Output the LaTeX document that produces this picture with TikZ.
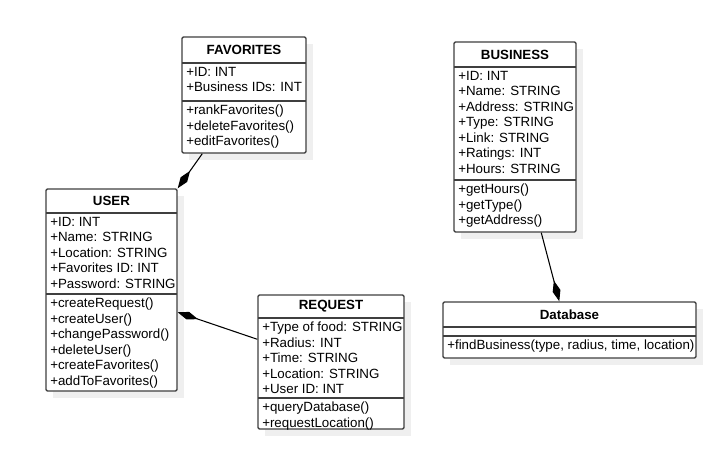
\documentclass[tikz,border=0pt]{standalone}
\usepackage{fontspec}
\setmainfont{Liberation Sans}
\usetikzlibrary{arrows.meta,calc,fit}
\definecolor{boxline}{HTML}{3F3F3F}
\definecolor{shade}{HTML}{EFEFEF}
\tikzset{
  classbox/.style={draw=boxline, line width=1.1pt, fill=white, rounded corners=1pt, inner sep=0pt},
  shadowbox/.style={fill=shade},
  sepline/.style={draw=boxline, line width=1.1pt},
  title/.style={font=\bfseries, inner sep=0pt},
  members/.style={anchor=north west, align=left, inner xsep=3pt, inner ysep=3pt, font=\fontsize{10}{11.6}\selectfont},
  comp/.style={draw=black, line width=0.8pt, -{Diamond[length=16pt, width=6pt, fill=black]}}
}
\begin{document}
\begin{tikzpicture}[x=0.75pt, y=-0.75pt]
            \useasboundingbox (0,0) rectangle (706,449);

            % shadows
            \fill[shadowbox] (189,44) rectangle (313,160);
            \fill[shadowbox] (53,196) rectangle (184,398);
            \fill[shadowbox] (265,302) rectangle (411,436);
            \fill[shadowbox] (461,49) rectangle (583,239);
            \fill[shadowbox] (450,309) rectangle (703,365);

            % FAVORITES
            \node[classbox, fit={(182,37) (306,153)}] (favorites) {};
            \draw[sepline] (182,63) -- (306,63);
            \draw[sepline] (182,101) -- (306,101);
            \node[title] (favtitle) at (244,50) {FAVORITES};
            \node[members] (favattr) at (182,63) {+ID: INT\\+Business IDs: INT};
            \node[members] (favops) at (182,101) {+rankFavorites()\\+deleteFavorites()\\+editFavorites()};

            % USER
            \node[classbox, fit={(46,189) (177,391)}] (user) {};
            \draw[sepline] (46,213) -- (177,213);
            \draw[sepline] (46,294) -- (177,294);
            \node[title] (usertitle) at (111.5,201) {USER};
            \node[members] (userattr) at (46,213) {+ID: INT\\+Name: STRING\\+Location: STRING\\+Favorites ID: INT\\+Password: STRING};
            \node[members] (userops) at (46,294) {+createRequest()\\+createUser()\\+changePassword()\\+deleteUser()\\+createFavorites()\\+addToFavorites()};

            % REQUEST
            \node[classbox, fit={(258,295) (404,429)}] (request) {};
            \draw[sepline] (258,318) -- (404,318);
            \draw[sepline] (258,398) -- (404,398);
            \node[title] (reqtitle) at (331,306.5) {REQUEST};
            \node[members] (reqattr) at (258,318) {+Type of food: STRING\\+Radius: INT\\+Time: STRING\\+Location: STRING\\+User ID: INT};
            \node[members] (reqops) at (258,398) {+queryDatabase()\\+requestLocation()};

            % BUSINESS
            \node[classbox, fit={(454,42) (576,232)}] (business) {};
            \draw[sepline] (454,67) -- (576,67);
            \draw[sepline] (454,180) -- (576,180);
            \node[title] (bustitle) at (515,54.5) {BUSINESS};
            \node[members] (busattr) at (454,67) {+ID: INT\\+Name: STRING\\+Address: STRING\\+Type: STRING\\+Link: STRING\\+Ratings: INT\\+Hours: STRING};
            \node[members] (busops) at (454,180) {+getHours()\\+getType()\\+getAddress()};

            % Database
            \node[classbox, fit={(443,302) (696,358)}] (database) {};
            \draw[sepline] (443,327) -- (696,327);
            \draw[sepline] (443,336) -- (696,336);
            \node[title] (dbtitle) at (569.5,314.5) {Database};
            \node[members] (dbops) at (443,336) {+findBusiness(type, radius, time, location)};

            % compositions
            \draw[comp] ($(favorites.south west)+(21,0)$) -- (user.north east);
            \draw[comp] ($(request.north west)+(0,45)$) -- ($(user.north east)+(0,124)$);
            \draw[comp] ($(business.south west)+(88,0)$) -- ($(database.north west)+(117,0)$);
            \end{tikzpicture}
\end{document}
